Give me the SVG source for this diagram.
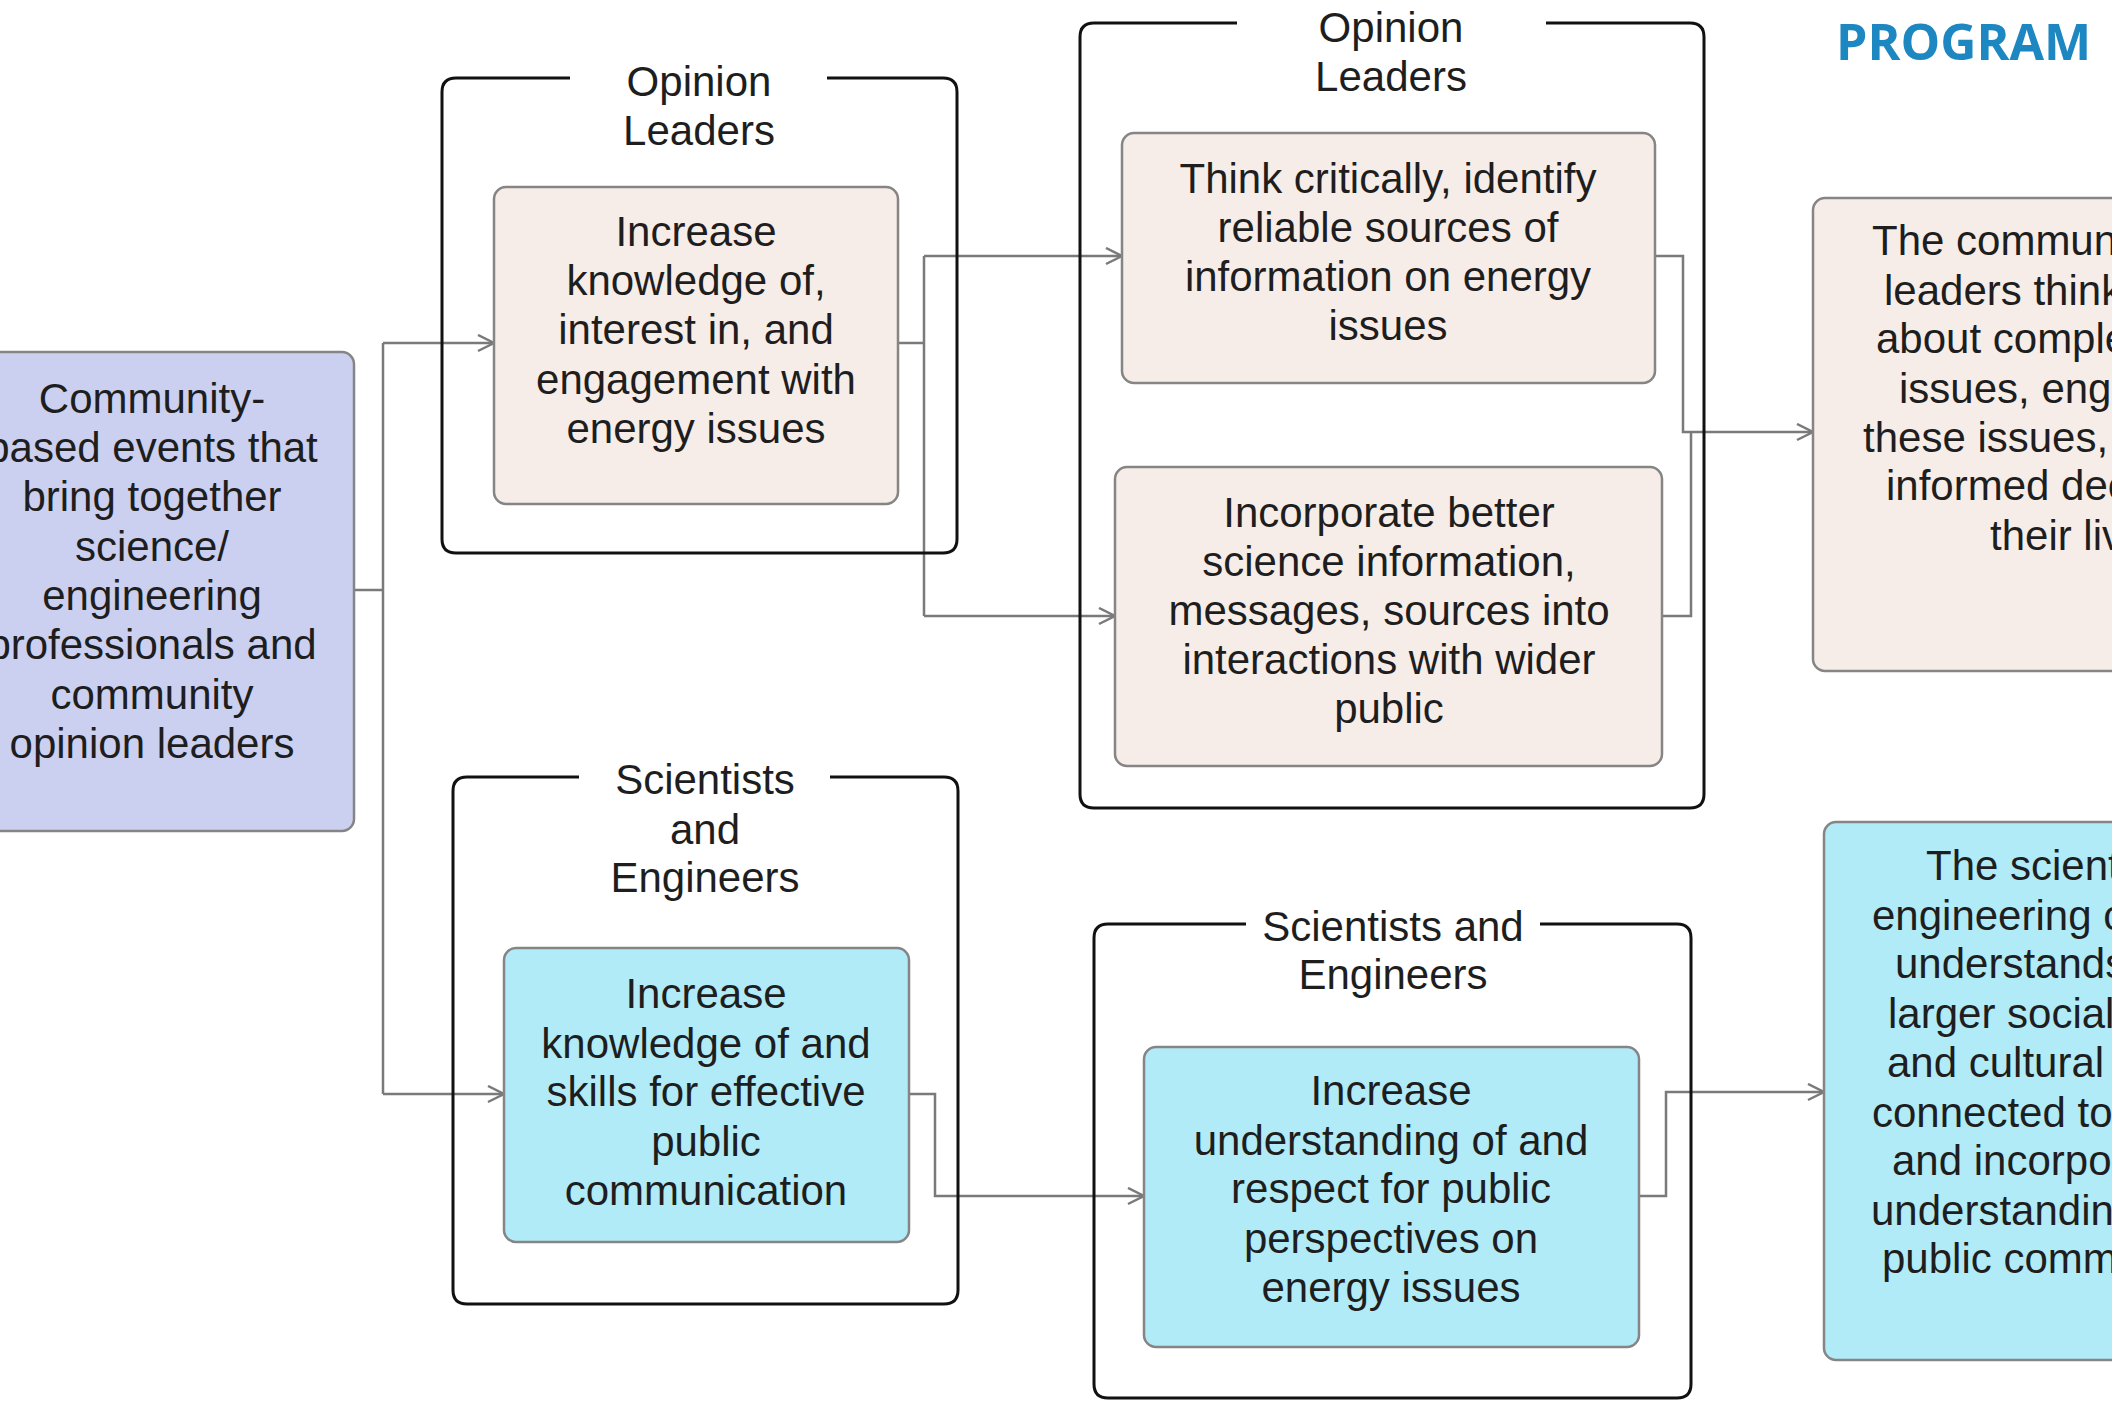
<svg xmlns="http://www.w3.org/2000/svg" width="2112" height="1401" viewBox="0 0 2112 1401">
<defs>
<style>
.t{font-family:"Liberation Sans",Arial,sans-serif;font-size:42px;fill:#1e1e1e;text-anchor:middle}
.ts{font-family:"Liberation Sans",Arial,sans-serif;font-size:42px;fill:#1e1e1e;text-anchor:start}
.grp{fill:none;stroke:#111;stroke-width:3}
.peach{fill:#f7ede8;stroke:#858585;stroke-width:2.5}
.cyan{fill:#b2ebf8;stroke:#858585;stroke-width:2.5}
.lav{fill:#cbd0f0;stroke:#858585;stroke-width:2.5}
.c{fill:none;stroke:#7a7a7a;stroke-width:2.5}
.h{font-family:"Open Sans","Noto Sans",sans-serif;font-weight:bold;font-size:50px;fill:#1d87c2}
</style>
<marker id="arr" markerUnits="userSpaceOnUse" markerWidth="20" markerHeight="20" refX="17" refY="9" orient="auto">
<path d="M1,1 L17,9 L1,17" fill="none" stroke="#7a7a7a" stroke-width="2.5"/>
</marker>
</defs>
<rect width="2112" height="1401" fill="#fff"/>

<text id="header" class="h" x="1836" y="60">PROGRAM</text>

<g id="connectors">
<path class="c" d="M354 590 H383"/>
<path class="c" d="M383 343 V1094"/>
<path class="c" d="M383 343 H494" marker-end="url(#arr)"/>
<path class="c" d="M383 1094 H504" marker-end="url(#arr)"/>
<path class="c" d="M898 343 H924"/>
<path class="c" d="M924 256 V616"/>
<path class="c" d="M924 256 H1122" marker-end="url(#arr)"/>
<path class="c" d="M924 616 H1115" marker-end="url(#arr)"/>
<path class="c" d="M1655 256 H1683 V432 H1813" marker-end="url(#arr)"/>
<path class="c" d="M1662 616 H1691 V432"/>
<path class="c" d="M909 1094 H935 V1196 H1144" marker-end="url(#arr)"/>
<path class="c" d="M1639 1196 H1666 V1092 H1824" marker-end="url(#arr)"/>
</g>

<g id="node-events">
<rect class="lav" x="-20" y="352" width="374" height="479" rx="12"/>
<text class="t" x="152" y="413">Community-</text>
<text class="t" x="152" y="462">based events that</text>
<text class="t" x="152" y="511">bring together</text>
<text class="t" x="152" y="561">science/</text>
<text class="t" x="152" y="610">engineering</text>
<text class="t" x="152" y="659">professionals and</text>
<text class="t" x="152" y="709">community</text>
<text class="t" x="152" y="758">opinion leaders</text>
</g>

<g id="group-opinion-1">
<path class="grp" d="M570 78 H456 Q442 78 442 92 V539 Q442 553 456 553 H943 Q957 553 957 539 V92 Q957 78 943 78 H827"/>
<text class="t" x="699" y="96">Opinion</text>
<text class="t" x="699" y="145">Leaders</text>
</g>

<g id="node-increase-knowledge-ol">
<rect class="peach" x="494" y="187" width="404" height="317" rx="12"/>
<text class="t" x="696" y="246">Increase</text>
<text class="t" x="696" y="295">knowledge of,</text>
<text class="t" x="696" y="344">interest in, and</text>
<text class="t" x="696" y="394">engagement with</text>
<text class="t" x="696" y="443">energy issues</text>
</g>

<g id="group-opinion-2">
<path class="grp" d="M1237 23 H1094 Q1080 23 1080 37 V794 Q1080 808 1094 808 H1690 Q1704 808 1704 794 V37 Q1704 23 1690 23 H1546"/>
<text class="t" x="1391" y="42">Opinion</text>
<text class="t" x="1391" y="91">Leaders</text>
</g>

<g id="node-think-critically">
<rect class="peach" x="1122" y="133" width="533" height="250" rx="12"/>
<text class="t" x="1388" y="193">Think critically, identify</text>
<text class="t" x="1388" y="242">reliable sources of</text>
<text class="t" x="1388" y="291">information on energy</text>
<text class="t" x="1388" y="340">issues</text>
</g>

<g id="node-incorporate">
<rect class="peach" x="1115" y="467" width="547" height="299" rx="12"/>
<text class="t" x="1389" y="527">Incorporate better</text>
<text class="t" x="1389" y="576">science information,</text>
<text class="t" x="1389" y="625">messages, sources into</text>
<text class="t" x="1389" y="674">interactions with wider</text>
<text class="t" x="1389" y="723">public</text>
</g>

<g id="node-outcome-community">
<rect class="peach" x="1813" y="198" width="340" height="473" rx="12"/>
<text class="ts" x="1872" y="255">The commun</text>
<text class="ts" x="1884" y="305">leaders think</text>
<text class="ts" x="1876" y="353">about comple</text>
<text class="ts" x="1899" y="403">issues, eng</text>
<text class="ts" x="1863" y="452">these issues,</text>
<text class="ts" x="1886" y="500">informed dec</text>
<text class="ts" x="1990" y="550">their liv</text>
</g>

<g id="group-scientists-1">
<path class="grp" d="M579 777 H467 Q453 777 453 791 V1290 Q453 1304 467 1304 H944 Q958 1304 958 1290 V791 Q958 777 944 777 H830"/>
<text class="t" x="705" y="794">Scientists</text>
<text class="t" x="705" y="844">and</text>
<text class="t" x="705" y="892">Engineers</text>
</g>

<g id="node-increase-skills">
<rect class="cyan" x="504" y="948" width="405" height="294" rx="12"/>
<text class="t" x="706" y="1008">Increase</text>
<text class="t" x="706" y="1058">knowledge of and</text>
<text class="t" x="706" y="1106">skills for effective</text>
<text class="t" x="706" y="1156">public</text>
<text class="t" x="706" y="1205">communication</text>
</g>

<g id="group-scientists-2">
<path class="grp" d="M1246 924 H1108 Q1094 924 1094 938 V1384 Q1094 1398 1108 1398 H1677 Q1691 1398 1691 1384 V938 Q1691 924 1677 924 H1540"/>
<text class="t" x="1393" y="941">Scientists and</text>
<text class="t" x="1393" y="989">Engineers</text>
</g>

<g id="node-increase-understanding">
<rect class="cyan" x="1144" y="1047" width="495" height="300" rx="12"/>
<text class="t" x="1391" y="1105">Increase</text>
<text class="t" x="1391" y="1155">understanding of and</text>
<text class="t" x="1391" y="1203">respect for public</text>
<text class="t" x="1391" y="1253">perspectives on</text>
<text class="t" x="1391" y="1302">energy issues</text>
</g>

<g id="node-outcome-scientists">
<rect class="cyan" x="1824" y="822" width="330" height="538" rx="12"/>
<text class="ts" x="1926" y="880">The scient</text>
<text class="ts" x="1872" y="930">engineering c</text>
<text class="ts" x="1895" y="978">understands</text>
<text class="ts" x="1888" y="1028">larger social</text>
<text class="ts" x="1887" y="1077">and cultural</text>
<text class="ts" x="1872" y="1127">connected to</text>
<text class="ts" x="1892" y="1175">and incorpo</text>
<text class="ts" x="1871" y="1225">understandin</text>
<text class="ts" x="1882" y="1273">public comm</text>
</g>
</svg>
